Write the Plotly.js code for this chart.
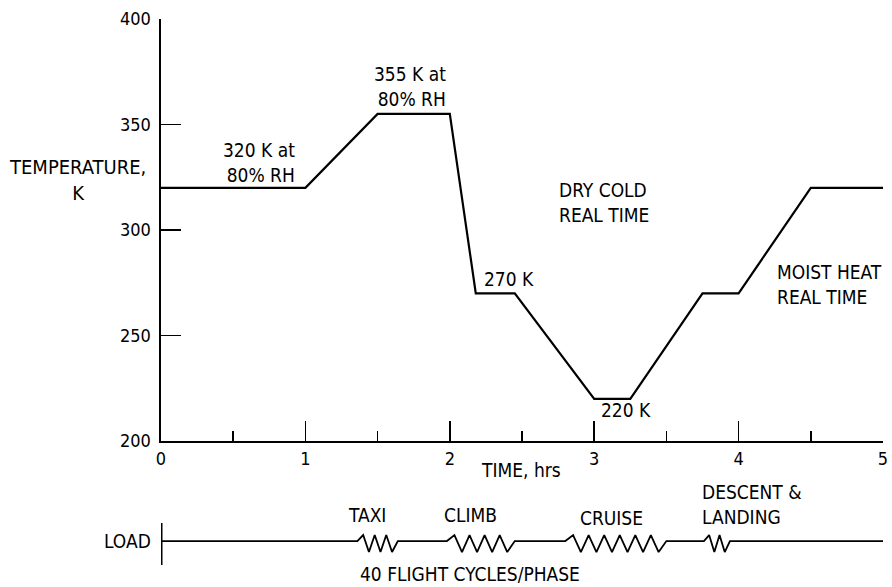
<!DOCTYPE html>
<html>
<head>
<meta charset="utf-8">
<script src="https://cdn.plot.ly/plotly-3.0.1.min.js"></script>
<style>html,body{margin:0;padding:0;background:#fff;}#chart{width:892px;height:587px;}</style>
</head>
<body>
<div id="chart"></div>
<script>
// Temperature profile (time in hrs, temperature in K)
const timeHrs = [0, 1.0, 1.5, 2.0, 2.18, 2.45, 3.0, 3.25, 3.75, 4.0, 4.5, 5.0];
const tempK   = [320, 320, 355, 355, 270, 270, 220, 220, 270, 270, 320, 320];

// Load phases (time in hrs) and number of load cycles drawn in each spring symbol
const phaseNames  = ["TAXI", "CLIMB", "CRUISE", "DESCENT &<br>LANDING"];
const phaseStart  = [1.36, 1.98, 2.80, 3.76];
const phaseEnd    = [1.64, 2.45, 3.50, 3.94];
const phaseZigs   = [3, 4, 6, 2];

const xTickVals = [0, 1, 2, 3, 4, 5];
const yTickVals = [200, 250, 300, 350, 400];

// Build load line through the library's axes
const PEAK = 6, VALLEY = -11;
const loadX = [0], loadY = [0];
for (let p = 0; p < phaseStart.length; p++) {
  const s = phaseStart[p], e = phaseEnd[p], n = phaseZigs[p];
  const steps = 2 * n + 1;
  loadX.push(s); loadY.push(0);
  for (let k = 1; k <= 2 * n; k++) {
    loadX.push(s + k * (e - s) / steps);
    loadY.push(k % 2 === 1 ? PEAK : VALLEY);
  }
  loadX.push(e); loadY.push(0);
}
loadX.push(5); loadY.push(0);

const FONT = "'Liberation Sans Narrow', 'DejaVu Sans Condensed', 'Arial Narrow', sans-serif";

const traces = [
  {x: timeHrs, y: tempK, mode: 'lines', line: {color: '#000', width: 2.2},
   xaxis: 'x', yaxis: 'y', hoverinfo: 'skip', showlegend: false, cliponaxis: false},
  {x: loadX, y: loadY, mode: 'lines', line: {color: '#000', width: 1.8},
   xaxis: 'x2', yaxis: 'y2', hoverinfo: 'skip', showlegend: false, cliponaxis: false},
  {x: [0, 0], y: [-24, 18], mode: 'lines', line: {color: '#000', width: 3},
   xaxis: 'x2', yaxis: 'y2', hoverinfo: 'skip', showlegend: false, cliponaxis: false}
];

const ann = [];
function A(text, x, y, opts) {
  ann.push(Object.assign({text: text, x: x, y: y, xref: 'x', yref: 'y', showarrow: false,
    font: {family: FONT, size: 19, color: '#000'}, xanchor: 'center', yanchor: 'middle'}, opts || {}));
}
A('320 K at<br>80% RH', 0.94, 332, {xanchor: 'right', align: 'right'});
A('355 K at<br>80% RH', 1.99, 368, {xanchor: 'right', align: 'right'});
A('DRY COLD<br>REAL TIME', 2.74, 313, {xanchor: 'left', align: 'left'});
A('270 K', 2.22, 277, {xanchor: 'left'});
A('220 K', 3.03, 214.7, {xanchor: 'left'});
A('MOIST HEAT<br>REAL TIME', 4.25, 274.4, {xanchor: 'left', align: 'left'});
A('TIME, hrs', 0.4986, 0.2032, {xref: 'paper', yref: 'paper'});
A('TEMPERATURE,<br>K', -0.115, 0.7155, {xref: 'paper', yref: 'paper', font: {family: FONT, size: 20, color: '#000'}});

// load diagram labels
const loadLabelX = [1.43, 2.14, 3.12, 3.73];
const loadLabelY = [26, 26, 23, 36.5];
for (let i = 0; i < phaseNames.length; i++) {
  A(phaseNames[i], loadLabelX[i], loadLabelY[i],
    {xref: 'x2', yref: 'y2', xanchor: i === 3 ? 'left' : 'center', align: 'left'});
}
A('LOAD', -0.0111, 0.0777, {xref: 'paper', yref: 'paper', xanchor: 'right'});
A('40 FLIGHT CYCLES/PHASE', 2.14, -33, {xref: 'x2', yref: 'y2'});

const layout = {
  width: 892, height: 587,
  margin: {l: 161, r: 9, t: 19, b: 2},
  paper_bgcolor: '#fff', plot_bgcolor: 'rgba(0,0,0,0)',
  font: {family: FONT, size: 18, color: '#000'},
  showlegend: false,
  xaxis: {domain: [0, 1], range: [0, 5], anchor: 'y', showgrid: false, zeroline: false,
    showline: true, linecolor: '#000', linewidth: 2,
    tickmode: 'array', tickvals: xTickVals, ticks: 'inside', ticklen: 20, tickwidth: 1.5, tickcolor: '#000',
    minor: {dtick: 0.5, ticks: 'inside', ticklen: 10, tickwidth: 1.5, tickcolor: '#000', showgrid: false},
    tickfont: {family: FONT, size: 18}},
  yaxis: {domain: [0.2544, 1], range: [200, 400], anchor: 'x', showgrid: false, zeroline: false,
    showline: true, linecolor: '#000', linewidth: 2.5,
    tickmode: 'array', tickvals: yTickVals, ticks: 'inside', ticklen: 20, tickwidth: 1.5, tickcolor: '#000',
    ticklabelstandoff: 4,
    tickfont: {family: FONT, size: 18}},
  xaxis2: {domain: [0, 1], range: [0, 5], anchor: 'y2', visible: false, showgrid: false, zeroline: false},
  yaxis2: {domain: [0, 0.15], range: [-44, 41], anchor: 'x2', visible: false, showgrid: false, zeroline: false},
  annotations: ann
};

Plotly.newPlot('chart', traces, layout, {staticPlot: true, displayModeBar: false});
</script>
</body>
</html>
